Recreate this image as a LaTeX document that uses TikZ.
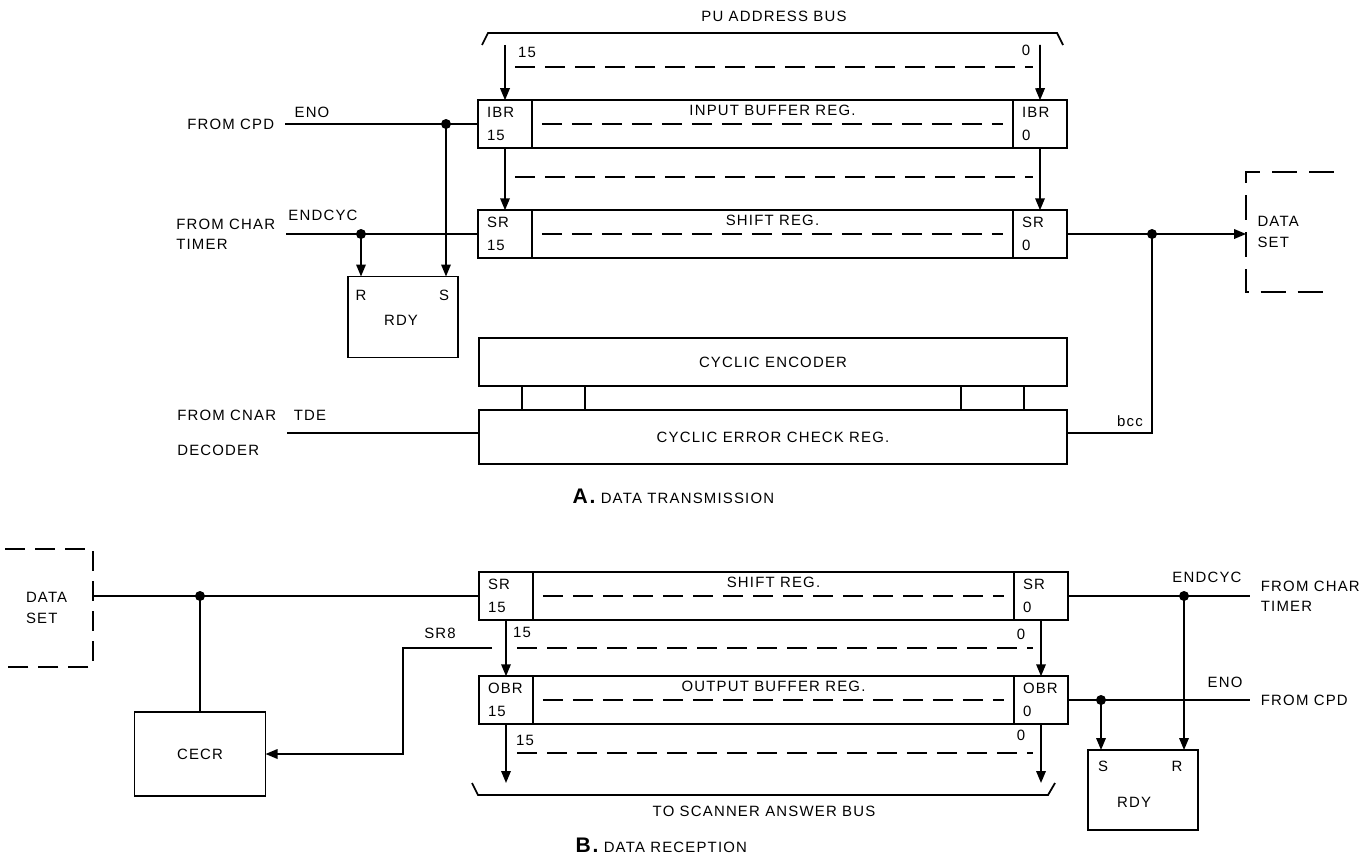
\documentclass[tikz,border=0pt]{standalone}
\usepackage{fontspec}
\newfontfamily\lettering[LetterSpace=8]{Liberation Sans}
\usetikzlibrary{arrows.meta,positioning}

\tikzset{
  txt/.style={font=\lettering\fontsize{8.5}{11.5}\selectfont, inner sep=1pt},
  sidelabel/.style={txt, inner xsep=2mm, align=left},
  regend/.style={draw, txt, minimum width=10.7mm, minimum height=9.5mm,
    text width=7.2mm, align=left, inner sep=0pt, outer sep=0pt,
    font=\lettering\fontsize{8.5}{13}\selectfont},
  regbody/.style={draw, minimum width=96.3mm, minimum height=9.5mm,
    inner sep=0pt, outer sep=0pt},
  block/.style={draw, txt, outer sep=0pt},
  sig/.style={-{Triangle[length=2.4mm,width=1.9mm]}},
  busdash/.style={dash pattern=on 4mm off 2mm},
  opendash/.style={dash pattern=on 5mm off 2.4mm},
}

\begin{document}
\begin{tikzpicture}[x=0.2mm, y=-0.2mm, line width=1pt]
\useasboundingbox (0,0) rectangle (1372,857);

% A. Data transmission: address bus
\node[txt] (puBus) at (774,16) {PU ADDRESS BUS};
\draw (482,45) -- (488,33) -- (1057,33) -- (1063,45);
\coordinate (tapA15) at (505,45);
\coordinate (tapA0) at (1040,45);
\node[txt] at (527,52) {15};
\node[txt] at (1026,50) {0};
\draw[busdash] (515,67) -- (1033,67);

% Input buffer reg
\node[regend] (ibr15) at (505,124) {IBR\\15};
\node[regbody, right=0pt of ibr15] (ibr) {};
\node[regend, right=0pt of ibr] (ibr0) {IBR\\0};
\node[txt, above=1.1mm of ibr.center] {INPUT BUFFER REG.};
\draw[busdash] ([xshift=2mm]ibr.west) -- ([xshift=-2mm]ibr.east);
\draw[busdash] (515,177) -- (1033,177);

% Shift reg
\node[regend] (sr15) at (505,234) {SR\\15};
\node[regbody, right=0pt of sr15] (sr) {};
\node[regend, right=0pt of sr] (sr0) {SR\\0};
\node[txt, above=1.1mm of sr.center] {SHIFT REG.};
\draw[busdash] ([xshift=2mm]sr.west) -- ([xshift=-2mm]sr.east);

\draw[sig] (tapA15) -- (ibr15.north);
\draw[sig] (tapA0) -- (ibr0.north);
\draw[sig] (ibr15.south) -- (sr15.north);
\draw[sig] (ibr0.south) -- (sr0.north);

% RDY flip-flop
\node[block, minimum width=22mm, minimum height=16.2mm] (rdyA) at (403,317) {};
\node[txt] at (401,320) {RDY};
\node[txt] at (361,295) {R};
\node[txt] at (444,295) {S};

% Inputs on the left
\node[sidelabel, anchor=east] (cpdA) at (285,124) {FROM CPD};
\node[txt] at (312,112) {ENO};
\draw (cpdA.east) -- (ibr15.west);
\coordinate (jEnoA) at (446,124);
\fill (jEnoA) circle (1mm);

\node[sidelabel, anchor=east] (charA) at (286,234) {FROM CHAR\\TIMER};
\node[txt] at (323,215) {ENDCYC};
\draw (charA.east) -- (sr15.west);
\coordinate (jCycA) at (361,234);
\fill (jCycA) circle (1mm);

\draw[sig] (jCycA) -- (jCycA |- rdyA.north);
\draw[sig] (jEnoA) -- (jEnoA |- rdyA.north);

% Cyclic encoder and check reg
\node[block, minimum width=117.6mm, minimum height=9.6mm] (cenc) at (773,362) {CYCLIC ENCODER};
\node[block, minimum width=117.6mm, minimum height=10.8mm] (cecrA) at (773,437) {CYCLIC ERROR CHECK REG.};
\foreach \dx in {-50.2,-37.6,37.6,50.2}
  \draw ([xshift=\dx mm]cenc.south) -- ([xshift=\dx mm]cecrA.north);

\node[sidelabel, anchor=east] (cnarA) at (287,433) {FROM CNAR\\[3mm]DECODER};
\node[txt] at (310,415) {TDE};
\draw (cnarA.east) -- (cnarA.east -| cecrA.west);

% Output to data set
\node[txt, minimum width=17.2mm, minimum height=23.6mm, text width=13mm, align=left] (dsetA) at (1290,232) {DATA\\SET};
\draw[opendash] (dsetA.north east) -- (dsetA.north west) -- (dsetA.south west) -- (dsetA.south east);
\draw[sig] (sr0.east) -- (sr0.east -| dsetA.west);
\coordinate (jOutA) at (1152,234);
\fill (jOutA) circle (1mm);
\coordinate (bccA) at (1152,433);
\draw (jOutA) -- (bccA) -- (bccA -| cecrA.east);
\node[txt] at (1130,421) {bcc};

\node[txt, anchor=west] (capA) at (570,496) {{\fontsize{12}{12}\selectfont\bfseries A.} DATA TRANSMISSION};

% B. Data reception
\node[txt, minimum width=17.2mm, minimum height=23.2mm, text width=9.2mm, align=left] (dsetB) at (49,608) {DATA\\SET};
\draw[busdash] (dsetB.north west) -- (dsetB.north east) -- (dsetB.south east) -- (dsetB.south west);

\node[regend] (bsr15) at (506,596) {SR\\15};
\node[regbody, right=0pt of bsr15] (bsr) {};
\node[regend, right=0pt of bsr] (bsr0) {SR\\0};
\node[txt, above=1.1mm of bsr.center] {SHIFT REG.};
\draw[busdash] ([xshift=2mm]bsr.west) -- ([xshift=-2mm]bsr.east);
\node[txt] at (522,632) {15};
\node[txt] at (1021,634) {0};
\draw[busdash] (517,648) -- (1033,648);

\node[regend] (bobr15) at (506,700) {OBR\\15};
\node[regbody, right=0pt of bobr15] (bobr) {};
\node[regend, right=0pt of bobr] (bobr0) {OBR\\0};
\node[txt, above=1.1mm of bobr.center] {OUTPUT BUFFER REG.};
\draw[busdash] ([xshift=2mm]bobr.west) -- ([xshift=-2mm]bobr.east);
\node[txt] at (525,740) {15};
\node[txt] at (1021,735) {0};
\draw[busdash] (517,753) -- (1033,753);

\coordinate (tapB15) at (506,783);
\coordinate (tapB0) at (1041,783);
\draw[sig] (bsr15.south) -- (bobr15.north);
\draw[sig] (bsr0.south) -- (bobr0.north);
\draw[sig] (bobr15.south) -- (tapB15);
\draw[sig] (bobr0.south) -- (tapB0);
\draw (472,783) -- (478,795) -- (1048,795) -- (1055,783);
\node[txt] (scanBus) at (764,811) {TO SCANNER ANSWER BUS};
\node[txt, anchor=west] (capB) at (573,845) {{\fontsize{12}{12}\selectfont\bfseries B.} DATA RECEPTION};

% CECR
\node[block, minimum width=26.2mm, minimum height=16.8mm] (cecrB) at (200,754) {CECR};
\draw (bsr15.west) -- (bsr15.west -| dsetB.east);
\coordinate (jInB) at (cecrB.north |- bsr15.west);
\fill (jInB) circle (1mm);
\draw (jInB) -- (cecrB.north);
\coordinate (sr8) at (492,648);
\coordinate (sr8bend) at (403,648);
\node[txt] at (440,633) {SR8};
\draw[sig] (sr8) -- (sr8bend) |- (cecrB.east);

% RDY and inputs on the right
\node[block, minimum width=22mm, minimum height=16mm] (rdyB) at (1143,790) {};
\node[txt] at (1134,802) {RDY};
\node[txt] at (1103,766) {S};
\node[txt] at (1177,766) {R};

\node[sidelabel, anchor=west] (charB) at (1250,596) {FROM CHAR\\TIMER};
\node[txt] at (1207,577) {ENDCYC};
\draw (bsr0.east) -- (charB.west);
\coordinate (jCycB) at (1184,596);
\fill (jCycB) circle (1mm);
\draw[sig] (jCycB) -- (jCycB |- rdyB.north);

\node[sidelabel, anchor=west] (cpdB) at (1250,700) {FROM CPD};
\node[txt] at (1225,682) {ENO};
\draw (bobr0.east) -- (cpdB.west);
\coordinate (jEnoB) at (1101,700);
\fill (jEnoB) circle (1mm);
\draw[sig] (jEnoB) -- (jEnoB |- rdyB.north);

\end{tikzpicture}
\end{document}
